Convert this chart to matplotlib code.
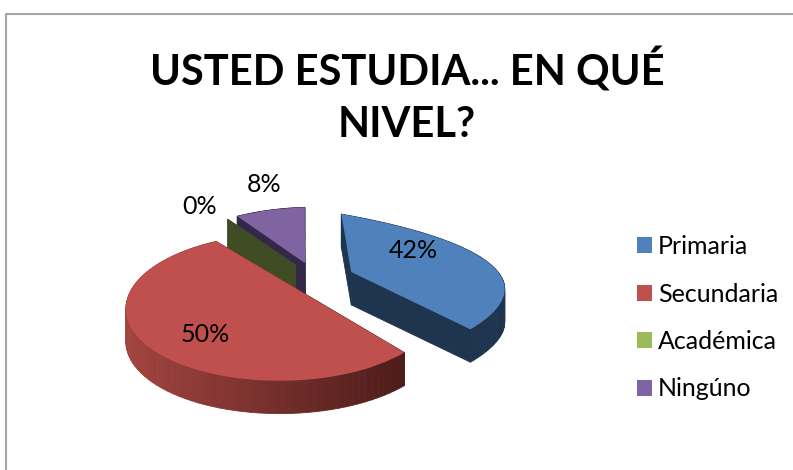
import numpy as np
import matplotlib
matplotlib.use("Agg")
import matplotlib.pyplot as plt
from matplotlib.collections import PolyCollection
from matplotlib.transforms import Transform

plt.rcParams['font.family'] = ['Lato', 'DejaVu Sans']

title = "USTED ESTUDIA... EN QUÉ\nNIVEL?"
categorias = ["Primaria", "Secundaria", "Académica", "Ningúno"]
valores = [42, 50, 0, 8]
explode = [0.235, 0.14, 0.13, 0.18]
colores = ["#4F81BD", "#C0504D", "#9BBB59", "#8064A2"]
paredes = ["#1F344F", "#7A2F2C", "#404C24", "#33284A"]
pos_labels = [(413, 250), (205, 334), (200, 206), (264, 184)]

DEPTH = 33

# puntos del disco -> pixeles medidos en la figura, para ajustar la perspectiva de cada porcion
disco_azul = [(.227, .06), (.227, .06), (.227, 1.06), (.227, 1.06), (.712, -.815), (1.193, .319),
              (1.093, -.44), (.934, .767), (.55, 1.01)]
pix_azul = [(348, 275), (348, 275), (345, 215), (345, 215), (478, 323), (499, 270),
            (495, 298), (445, 238), (398, 223)]
disco_rojo = [(-.122, -.068), (.363, -.943), (-.607, .807), (-1.122, -.068), (-.381, -1.034),
              (-.829, -.775), (-.988, .432), (.052, -1.053)]
pix_rojo = [(293, 296), (413, 347), (216, 238), (129, 305), (285, 381),
            (172, 358), (158, 262), (343, 373)]
disco_morado = [(-.045, .174), (-.045, 1.174), (-.53, 1.049), (-.29, 1.14)]
pix_morado = [(305, 263), (305, 208), (237, 217), (270, 209)]


def ajuste(disco, pixeles):
    filas = []
    for (u, v), (x, y) in zip(disco, pixeles):
        filas.append([u, v, 1, 0, 0, 0, -x * u, -x * v, -x])
        filas.append([0, 0, 0, u, v, 1, -y * u, -y * v, -y])
    return np.linalg.svd(np.array(filas))[2][-1].reshape(3, 3)


def ajuste_afin(disco, pixeles):
    d = np.column_stack((disco, np.ones(len(disco))))
    m = np.linalg.lstsq(d, np.array(pixeles, dtype=float), rcond=None)[0].T
    return np.vstack((m, [0, 0, 1]))


class Perspectiva(Transform):
    input_dims = 2
    output_dims = 2

    def __init__(self, H):
        super().__init__()
        self.H = H

    def transform_non_affine(self, values):
        values = np.asarray(values, dtype=float)
        p = np.column_stack((values, np.ones(len(values)))) @ self.H.T
        return p[:, :2] / p[:, 2:]


def contorno(w):
    ang = np.radians(np.linspace(w.theta1, w.theta2, 80))
    arco = np.column_stack((w.center[0] + w.r * np.cos(ang), w.center[1] + w.r * np.sin(ang)))
    return np.vstack(([w.center], arco, [w.center]))


fig = plt.figure(figsize=(7.93, 4.70), dpi=100)
ax = fig.add_axes([0, 0, 1, 1])

wedges, _ = ax.pie(valores, colors=colores, explode=explode, startangle=90, counterclock=False)
ax.set_aspect('auto')
ax.set_xlim(0, 793)
ax.set_ylim(470, 0)
ax.axis('off')

H_morado = ajuste_afin(disco_morado, pix_morado)
H_verde = np.array([[1, 0, -7], [0, 0.98, 4], [0, 0, 1]]) @ H_morado
proyecciones = [Perspectiva(ajuste(disco_azul, pix_azul)), Perspectiva(ajuste(disco_rojo, pix_rojo)),
                Perspectiva(H_verde), Perspectiva(H_morado)]
# orden de atras hacia adelante
orden = {3: 1, 2: 2, 0: 3, 1: 4}
for i, w in enumerate(wedges):
    proy = proyecciones[i]
    w.set_transform(proy + ax.transData)
    w.set_zorder(orden[i] * 2 + 1)
    w.set_clip_on(False)

    pts = proy.transform(contorno(w))
    quads = []
    for p, q in zip(pts[:-1], pts[1:]):
        quads.append([p, q, q + [0, DEPTH], p + [0, DEPTH]])
    quads.sort(key=lambda c: np.mean([c[0][1], c[1][1]]))
    quads = np.array(quads)
    if i == 1:
        # la pared roja va oscureciendo hacia la derecha
        t = np.clip((quads[:, :, 0].mean(axis=1) - 129) / (413 - 129), 0, 1)[:, None]
        inicio = np.array(matplotlib.colors.to_rgb("#A2443F"))
        fin = np.array(matplotlib.colors.to_rgb("#4A1B19"))
        cols = inicio * (1 - t) + fin * t
    else:
        cols = [paredes[i]] * len(quads)
    ax.add_collection(PolyCollection(quads, facecolors=cols, edgecolors=cols, linewidths=0.6,
                                     zorder=orden[i] * 2))

total = sum(valores)
for v, (x, y) in zip(valores, pos_labels):
    ax.text(x, y, f"{v / total:.0%}", fontsize=18, ha='center', va='center', color='black', zorder=20)

ax.text(407, 96, title, fontsize=30, fontweight='bold', ha='center', va='center',
        linespacing=1.45, color='black')

ax.legend(wedges, categorias, loc='upper left', bbox_to_anchor=(637 / 793, 1 - 235 / 470),
          frameon=False, fontsize=18, handlelength=0.6, handleheight=0.6,
          handletextpad=0.24, labelspacing=0.98, borderpad=0, borderaxespad=0)

ax.plot([6, 6, 793], [470, 14, 14], color='#A6A6A6', lw=1.5, clip_on=False)

fig.savefig("out.png", dpi=100)
